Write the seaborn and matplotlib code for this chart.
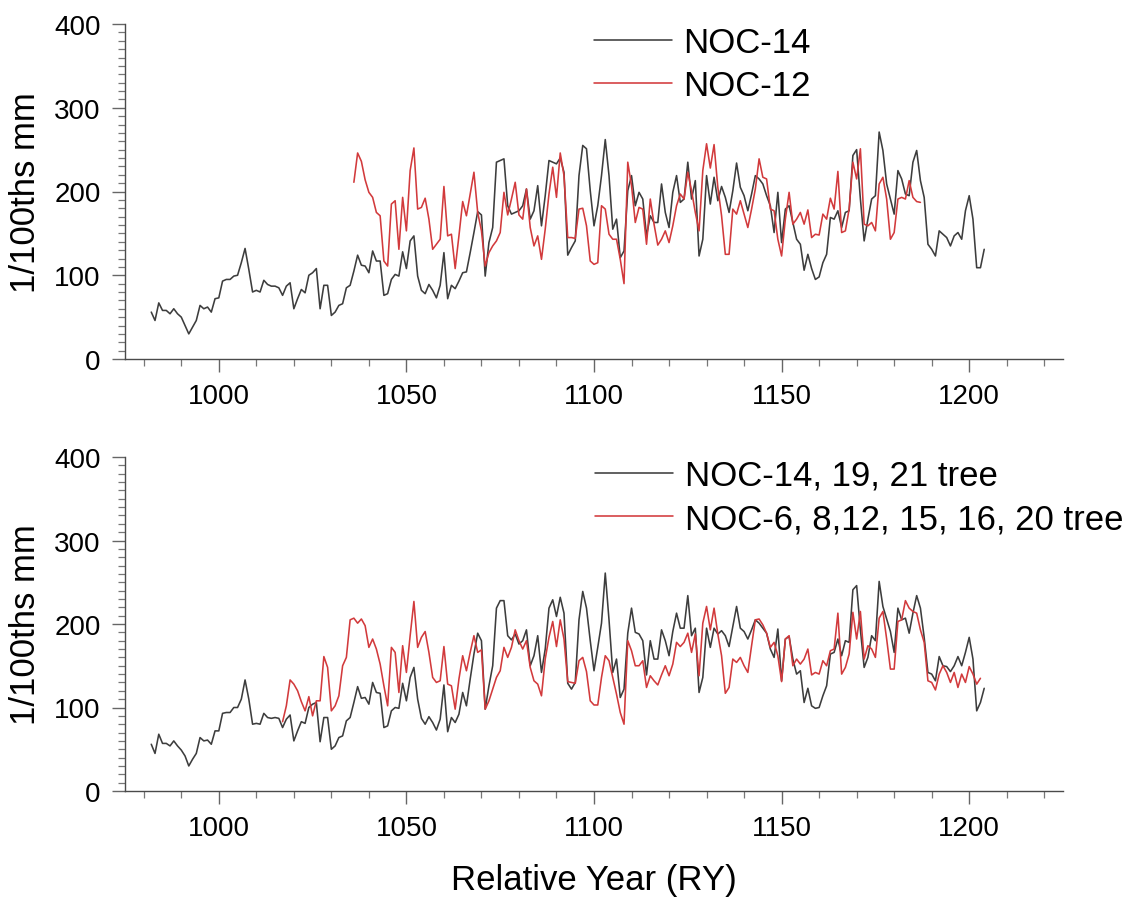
import numpy as np
import pandas as pd
import matplotlib
matplotlib.use("Agg")
import matplotlib.pyplot as plt
from matplotlib.ticker import MultipleLocator
import seaborn as sns

# ---------------- data ----------------
top_black_start = 982
top_black = [
    56, 46, 67, 58, 58, 54, 60, 54, 50, 40,
    30, 38, 46, 64, 60, 62, 56, 72, 73, 93,
    95, 95, 99, 100, 115, 132, 107, 80, 82, 80,
    94, 89, 87, 87, 85, 76, 87, 91, 60, 72,
    83, 79, 100, 103, 108, 60, 88, 88, 52, 56,
    64, 66, 85, 88, 105, 124, 112, 111, 103, 129,
    117, 117, 76, 78, 95, 101, 99, 128, 108, 141,
    147, 99, 82, 78, 89, 82, 73, 88, 127, 72,
    88, 84, 93, 103, 104, 127, 151, 176, 172, 99,
    139, 157, 235, 237, 239, 183, 173, 175, 177, 183,
    203, 167, 177, 207, 159, 195, 237, 235, 233, 240,
    223, 124, 133, 141, 219, 255, 251, 201, 159, 183,
    219, 262, 219, 155, 167, 121, 129, 201, 219, 183,
    199, 191, 147, 171, 163, 163, 209, 175, 157, 199,
    219, 187, 191, 235, 191, 213, 123, 143, 219, 185,
    217, 189, 206, 193, 175, 201, 234, 205, 195, 177,
    197, 219, 215, 209, 195, 183, 151, 199, 139, 179,
    183, 163, 143, 137, 106, 125, 108, 95, 98, 115,
    125, 169, 167, 177, 157, 175, 177, 243, 250, 191,
    141, 167, 191, 195, 271, 249, 209, 191, 173, 225,
    215, 197, 195, 235, 249, 213, 193, 137, 131, 123,
    153, 149, 145, 135, 147, 151, 143, 177, 195, 167,
    109, 109, 131,
]

top_red_start = 1036
top_red = [
    211, 246, 236, 214, 199, 193, 175, 171, 117, 111,
    185, 189, 131, 193, 153, 225, 252, 179, 181, 192,
    167, 131, 137, 143, 206, 147, 149, 108, 147, 188,
    171, 197, 223, 175, 153, 111, 127, 135, 141, 151,
    199, 172, 191, 211, 172, 167, 203, 157, 135, 147,
    119, 155, 197, 229, 193, 246, 219, 145, 145, 144,
    179, 180, 159, 117, 113, 115, 183, 179, 149, 143,
    143, 119, 90, 235, 207, 163, 181, 179, 137, 191,
    161, 136, 143, 153, 139, 159, 183, 197, 191, 223,
    201, 175, 153, 225, 257, 228, 256, 205, 171, 125,
    125, 179, 173, 189, 173, 157, 179, 203, 239, 217,
    215, 179, 177, 143, 123, 167, 199, 161, 167, 175,
    161, 178, 145, 149, 148, 173, 167, 192, 179, 224,
    151, 153, 179, 235, 215, 251, 161, 159, 163, 153,
    209, 217, 191, 143, 151, 191, 193, 191, 213, 193,
    188, 187,
]

bot_black_start = 982
bot_black = [
    56, 45, 68, 57, 57, 54, 60, 54, 49, 42,
    30, 38, 45, 64, 60, 61, 56, 72, 72, 93,
    94, 94, 100, 100, 110, 133, 110, 80, 81, 80,
    93, 88, 87, 88, 87, 76, 86, 91, 60, 72,
    83, 81, 100, 104, 106, 59, 88, 88, 50, 54,
    64, 66, 84, 88, 106, 125, 111, 112, 104, 130,
    118, 117, 76, 78, 96, 100, 99, 129, 108, 136,
    148, 110, 87, 80, 89, 82, 73, 86, 127, 71,
    88, 82, 92, 118, 102, 134, 164, 189, 180, 98,
    126, 150, 219, 228, 228, 186, 181, 188, 176, 180,
    193, 150, 162, 186, 142, 170, 219, 229, 209, 232,
    213, 129, 122, 130, 205, 239, 219, 180, 144, 172,
    201, 261, 205, 142, 158, 112, 122, 189, 219, 190,
    188, 180, 139, 180, 158, 158, 193, 180, 162, 191,
    213, 195, 195, 234, 186, 195, 118, 136, 195, 172,
    195, 188, 192, 186, 173, 197, 221, 195, 191, 182,
    193, 205, 201, 195, 189, 170, 160, 194, 132, 182,
    185, 158, 140, 144, 106, 123, 102, 99, 100, 114,
    126, 164, 166, 182, 162, 180, 178, 241, 246, 193,
    148, 160, 186, 180, 251, 221, 206, 191, 166, 219,
    205, 207, 189, 213, 234, 219, 184, 142, 140, 132,
    161, 150, 149, 143, 150, 161, 150, 166, 184, 158,
    96, 106, 123,
]

bot_red_start = 1017
bot_red = [
    83, 102, 133, 128, 120, 107, 96, 113, 90, 108,
    108, 161, 148, 96, 102, 114, 150, 160, 205, 207,
    201, 206, 198, 172, 182, 170, 152, 126, 102, 172,
    166, 118, 174, 142, 186, 227, 172, 184, 191, 166,
    136, 130, 132, 173, 128, 126, 98, 134, 162, 144,
    166, 186, 166, 169, 98, 108, 122, 136, 144, 172,
    160, 172, 193, 180, 170, 180, 148, 132, 128, 114,
    158, 184, 203, 173, 205, 182, 131, 130, 129, 156,
    160, 143, 108, 103, 103, 136, 162, 156, 136, 116,
    94, 80, 180, 168, 150, 150, 156, 124, 138, 132,
    127, 139, 150, 138, 152, 178, 173, 178, 189, 166,
    188, 138, 201, 221, 193, 219, 188, 162, 117, 124,
    158, 154, 160, 150, 142, 174, 205, 206, 199, 189,
    172, 178, 162, 131, 182, 186, 150, 158, 152, 158,
    170, 139, 142, 140, 156, 150, 168, 170, 213, 140,
    148, 164, 214, 182, 215, 158, 174, 170, 160, 207,
    215, 182, 146, 146, 203, 205, 228, 219, 215, 213,
    193, 178, 132, 130, 121, 140, 150, 142, 130, 142,
    124, 140, 130, 149, 140, 128, 135,
]

top_labels = ["NOC-14", "NOC-12"]
bot_labels = ["NOC-14, 19, 21 tree", "NOC-6, 8,12, 15, 16, 20 tree"]
y_label = "1/100ths mm"
x_label = "Relative Year (RY)"


def series(start, vals):
    return pd.DataFrame({"year": np.arange(start, start + len(vals)), "value": vals})


# ---------------- style ----------------
sns.set_style("ticks")
plt.rcParams["font.family"] = ["Liberation Sans", "DejaVu Sans"]
plt.rcParams["text.color"] = "black"
plt.rcParams["axes.labelcolor"] = "black"
plt.rcParams["xtick.color"] = "black"
plt.rcParams["ytick.color"] = "black"

BLACK = "#3d3d3d"
RED = "#d23a3c"
AX_COL = "#4a4a4a"

W, H = 1137, 903
fig = plt.figure(figsize=(W / 100, H / 100), dpi=100)

def axes_px(left, top, right, bottom):
    return fig.add_axes([left / W, 1 - bottom / H, (right - left) / W, (bottom - top) / H])

ax_top = axes_px(125, 25, 1063, 360)
ax_bot = axes_px(125, 458, 1063, 792)

panels = [
    (ax_top, series(top_black_start, top_black), series(top_red_start, top_red), top_labels, (594, 27)),
    (ax_bot, series(bot_black_start, bot_black), series(bot_red_start, bot_red), bot_labels, (595, 460)),
]

for ax, dk, dr, labels, (lx, ly) in panels:
    sns.lineplot(data=dk, x="year", y="value", ax=ax, color=BLACK, linewidth=1.15, label=labels[0])
    sns.lineplot(data=dr, x="year", y="value", ax=ax, color=RED, linewidth=1.15, label=labels[1])
    ax.set_xlim(975, 1225)
    ax.set_ylim(0, 400)
    ax.xaxis.set_major_locator(MultipleLocator(50))
    ax.xaxis.set_minor_locator(MultipleLocator(10))
    ax.yaxis.set_major_locator(MultipleLocator(100))
    ax.yaxis.set_minor_locator(MultipleLocator(10))
    ax.set_xticks([1000, 1050, 1100, 1150, 1200])
    ax.tick_params(axis="both", which="major", direction="out", length=9.4, width=1.0,
                   color="#666666", labelsize=20, pad=8, labelcolor="black")
    ax.tick_params(axis="both", which="minor", direction="out", length=5, width=0.9, color="#777777")
    for s in ["top", "right"]:
        ax.spines[s].set_visible(False)
    for s in ["left", "bottom"]:
        ax.spines[s].set_color(AX_COL)
        ax.spines[s].set_linewidth(1.0)
    ax.set_ylabel(y_label, fontsize=25, labelpad=9, color="black")
    ax.set_xlabel("")
    leg = ax.legend(loc="upper left", bbox_to_anchor=(lx / W, 1 - ly / H), bbox_transform=fig.transFigure,
                    frameon=False, fontsize=25, handlelength=2.24, handletextpad=0.34,
                    labelspacing=0.3, borderpad=0, borderaxespad=0)
    for t in leg.get_texts():
        t.set_color("black")

ax_bot.set_xlabel(x_label, fontsize=25, labelpad=16, color="black")

fig.savefig("out.png", dpi=100)
